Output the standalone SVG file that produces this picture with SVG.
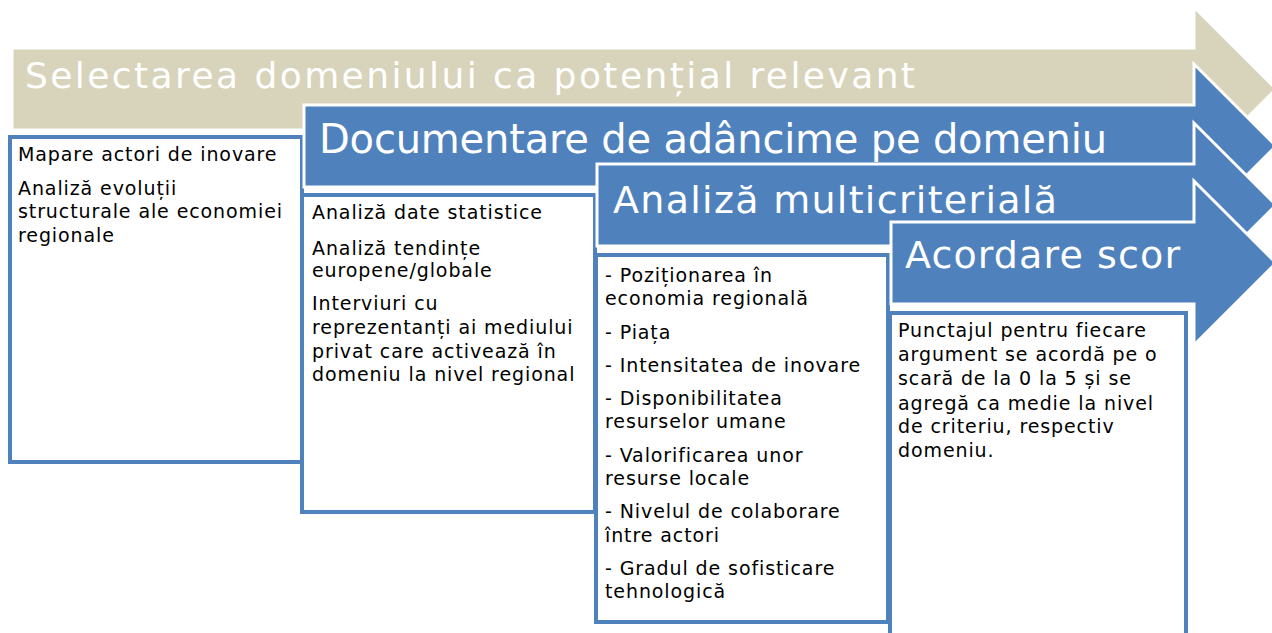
<svg xmlns="http://www.w3.org/2000/svg" width="1272" height="633" viewBox="0 0 1272 633">
<style>
.tan{fill:#D8D3BB;stroke:#FFFFFF;stroke-width:3}
.blue{fill:#4F81BD;stroke:#FFFFFF;stroke-width:3}
.box{fill:#FFFFFF;stroke:#4F81BD;stroke-width:4}
.title{font-family:"DejaVu Sans","Liberation Sans",sans-serif;fill:#FFFFFF}
.body{font-family:"DejaVu Sans","Liberation Sans",sans-serif;font-size:19px;letter-spacing:0.9px;fill:#000000}
</style>
<rect x="0" y="0" width="1272" height="633" fill="#FFFFFF"/>
<g id="step1">
<path class="tan" d="M12,48 H1194 V7 L1276,89 L1194,171 V130 H12 Z"/>
<text class="title" x="25" y="88" font-size="36" textLength="890" lengthAdjust="spacing">Selectarea domeniului ca potențial relevant</text>
</g>
<g id="box1">
<rect class="box" x="10" y="137" width="292" height="325"/>
<text class="body"><tspan x="18" y="161">Mapare actori de inovare</tspan><tspan x="18" y="195">Analiză evoluții</tspan><tspan x="18" y="218">structurale ale economiei</tspan><tspan x="18" y="242">regionale</tspan></text>
</g>
<g id="step2">
<path class="blue" d="M304,105 H1194 V64 L1276,146 L1194,228 V187 H304 Z"/>
<text class="title" x="319" y="153" font-size="40" textLength="788" lengthAdjust="spacing">Documentare de adâncime pe domeniu</text>
</g>
<g id="box2">
<rect class="box" x="302" y="195" width="293" height="317"/>
<text class="body"><tspan x="312" y="219">Analiză date statistice</tspan><tspan x="312" y="255">Analiză tendințe</tspan><tspan x="312" y="277">europene/globale</tspan><tspan x="312" y="310">Interviuri cu</tspan><tspan x="312" y="334">reprezentanți ai mediului</tspan><tspan x="312" y="358">privat care activează în</tspan><tspan x="312" y="381">domeniu la nivel regional</tspan></text>
</g>
<g id="step3">
<path class="blue" d="M597,164 H1194 V123 L1276,205 L1194,287 V246 H597 Z"/>
<text class="title" x="613" y="213" font-size="38" textLength="444" lengthAdjust="spacing">Analiză multicriterială</text>
</g>
<g id="box3">
<rect class="box" x="596" y="255" width="292" height="367"/>
<text class="body"><tspan x="605" y="282">- Poziționarea în</tspan><tspan x="605" y="305">economia regională</tspan><tspan x="605" y="339">- Piața</tspan><tspan x="605" y="372">- Intensitatea de inovare</tspan><tspan x="605" y="405">- Disponibilitatea</tspan><tspan x="605" y="428">resurselor umane</tspan><tspan x="605" y="462">- Valorificarea unor</tspan><tspan x="605" y="485">resurse locale</tspan><tspan x="605" y="518">- Nivelul de colaborare</tspan><tspan x="605" y="542">între actori</tspan><tspan x="605" y="575">- Gradul de sofisticare</tspan><tspan x="605" y="598">tehnologică</tspan></text>
</g>
<g id="step4">
<path class="blue" d="M891,222 H1194 V181 L1276,263 L1194,345 V304 H891 Z"/>
<text class="title" x="905" y="268" font-size="38" textLength="275" lengthAdjust="spacing">Acordare scor</text>
</g>
<g id="box4">
<rect class="box" x="890" y="313" width="296" height="340"/>
<text class="body"><tspan x="898" y="337">Punctajul pentru fiecare</tspan><tspan x="898" y="361">argument se acordă pe o</tspan><tspan x="898" y="385">scară de la 0 la 5 și se</tspan><tspan x="898" y="410">agregă ca medie la nivel</tspan><tspan x="898" y="433">de criteriu, respectiv</tspan><tspan x="898" y="457">domeniu.</tspan></text>
</g>
<g id="connectors"></g>
</svg>
